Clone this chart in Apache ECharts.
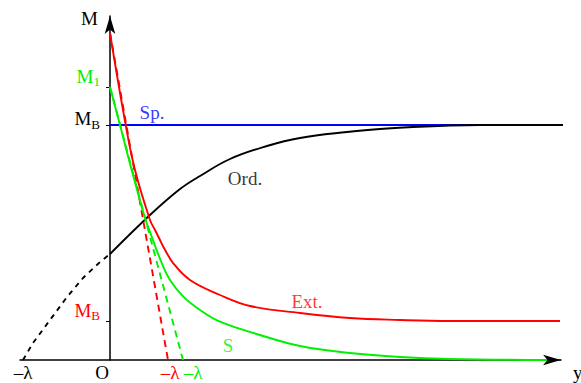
<!DOCTYPE html>
<html>
<head>
<meta charset="utf-8">
<script src="https://cdn.jsdelivr.net/npm/echarts@6/dist/echarts.min.js"></script>
<style>
  html, body { margin: 0; padding: 0; background: #fff; }
  #main { width: 581px; height: 383px; }
</style>
</head>
<body>
<div id="main"></div>
<script>
  // 曲线数据 [y, M]
  var spData = [[0, 2.35], [4.6, 2.35]];
  var ordDashed = [[-0.87, 0], [-0.77, 0.17], [-0.60, 0.40], [-0.43, 0.63], [-0.27, 0.82], [-0.10, 0.98], [0, 1.06]];
  var ordData = [[0, 1.06], [0.4, 1.45], [0.7, 1.71], [0.9, 1.84], [1.2, 2.01], [1.57, 2.14], [1.9, 2.22],
      [2.37, 2.28], [2.7, 2.31], [3.03, 2.33], [3.4, 2.345], [3.7, 2.35], [4.6, 2.35]];
  var extData = [[0, 3.27], [0.157, 2.35], [0.25, 1.90], [0.40, 1.40], [0.45, 1.30], [0.50, 1.20], [0.533, 1.133],
      [0.633, 0.967], [0.80, 0.80], [1.10, 0.65], [1.40, 0.54], [1.90, 0.47], [2.40, 0.42], [2.90, 0.40],
      [3.40, 0.39], [4.50, 0.39]];
  var extTangent = [[0, 3.27], [0.58, 0]];
  var sData = [[0, 2.73], [0.10, 2.35], [0.217, 1.90], [0.35, 1.42], [0.40, 1.28], [0.517, 0.97], [0.60, 0.80],
      [0.733, 0.633], [0.90, 0.50], [1.10, 0.383], [1.50, 0.25], [1.90, 0.14], [2.40, 0.07], [2.90, 0.03],
      [3.40, 0.01], [4.37, 0]];
  var sTangent = [[0, 2.73], [0.73, 0]];

  // 刻度
  var yTickValues = [2.73, 2.35, 0.39];
  var yTickLabels = ['{gm|M}{gs|1}\n{gap22| }', '{km|M}{ks|B}\n{gap13| }', '{rm|M}{rs|B}\n{gap22| }'];
  var xTickValues = [-0.87, 0, 0.60, 0.83];
  var xTickLabels = ['{k|–λ}', '{o|O}', '{r|–λ}', '{g|–λ}'];

  // 曲线名称 [文字, y, M, 颜色]
  var curveLabels = [['Sp.', 0.42, 2.48, '#0000ff'], ['Ord.', 1.35, 1.82, '#000000'],
      ['Ext.', 1.97, 0.59, '#ff0000'], ['S', 1.18, 0.15, '#00ee00']];

  var RED = '#ff0000', GREEN = '#00f000', BLUE = '#0000ff';
  var FONT = 'Liberation Serif';

  function findIndex(arr, v) {
      for (var i = 0; i < arr.length; i++) {
          if (Math.abs(arr[i] - v) < 1e-6) return i;
      }
      return -1;
  }

  var myChart = echarts.init(document.getElementById('main'), null, { renderer: 'svg' });

  function lineSeries(name, data, color, dashed) {
      return {
          name: name,
          type: 'line',
          data: data,
          smooth: dashed ? false : 0.4,
          showSymbol: false,
          clip: false,
          silent: true,
          lineStyle: {
              color: color,
              width: 1.9,
              type: dashed ? dashed : 'solid'
          }
      };
  }

  var option = {
      backgroundColor: '#fff',
      animation: false,
      grid: { left: 20, right: 20, top: 16, bottom: 23, outerBoundsMode: 'none', containLabel: false },
      xAxis: {
          type: 'value',
          min: -0.9,
          max: 4.51,
          splitLine: { show: false },
          axisTick: { show: false },
          axisLine: {
              symbol: ['none', 'arrow'],
              symbolSize: [8, 18],
              lineStyle: { color: '#000', width: 1.5 }
          },
          axisLabel: {
              customValues: xTickValues,
              margin: 3,
              formatter: function (value) {
                  var i = findIndex(xTickValues, value);
                  return i >= 0 ? xTickLabels[i] : '';
              },
              rich: {
                  k: { color: '#000', fontFamily: FONT, fontSize: 19 },
                  o: { color: '#000', fontFamily: FONT, fontSize: 19, padding: [0, 16, 0, 0] },
                  r: { color: RED, fontFamily: FONT, fontSize: 19 },
                  g: { color: GREEN, fontFamily: FONT, fontSize: 19 }
              }
          },
          name: 'y',
          nameLocation: 'end',
          nameGap: 12,
          nameTextStyle: {
              color: '#000', fontFamily: FONT, fontSize: 19,
              verticalAlign: 'top', padding: [3, 0, 0, 0]
          }
      },
      yAxis: {
          type: 'value',
          min: 0,
          max: 3.44,
          position: 'left',
          offset: -90, // 移到 y=0 处
          splitLine: { show: false },
          axisLine: {
              onZero: false,
              symbol: ['none', 'arrow'],
              symbolSize: [8, 18],
              lineStyle: { color: '#000', width: 1.5 }
          },
          axisTick: {
              customValues: yTickValues,
              length: 4,
              lineStyle: { color: '#000', width: 1 }
          },
          axisLabel: {
              customValues: yTickValues,
              margin: 10,
              formatter: function (value) {
                  var i = findIndex(yTickValues, value);
                  return i >= 0 ? yTickLabels[i] : '';
              },
              rich: {
                  gm: { color: GREEN, fontFamily: FONT, fontSize: 19, lineHeight: 24 },
                  gs: { color: GREEN, fontFamily: FONT, fontSize: 13, lineHeight: 14, verticalAlign: 'bottom' },
                  km: { color: '#000', fontFamily: FONT, fontSize: 19, lineHeight: 24 },
                  ks: { color: '#000', fontFamily: FONT, fontSize: 13, lineHeight: 14, verticalAlign: 'bottom' },
                  rm: { color: RED, fontFamily: FONT, fontSize: 19, lineHeight: 24 },
                  rs: { color: RED, fontFamily: FONT, fontSize: 13, lineHeight: 14, verticalAlign: 'bottom' },
                  gap22: { fontSize: 4, lineHeight: 22 },
                  gap13: { fontSize: 4, lineHeight: 13 }
              }
          },
          name: 'M',
          nameLocation: 'end',
          nameGap: -2,
          nameTextStyle: {
              color: '#000', fontFamily: FONT, fontSize: 19,
              align: 'right', verticalAlign: 'middle', padding: [0, 12, 0, 0]
          }
      },
      series: [
          lineSeries('Sp.', spData, BLUE),
          lineSeries('Ord. dashed', ordDashed, '#000', [5, 5]),
          lineSeries('Ord.', ordData, '#000'),
          lineSeries('Ext. tangent', extTangent, RED, [7, 5]),
          lineSeries('S tangent', sTangent, GREEN, [7, 5]),
          lineSeries('Ext.', extData, RED),
          lineSeries('S', sData, GREEN),
          {
              name: 'labels',
              type: 'scatter',
              symbolSize: 0,
              silent: true,
              data: curveLabels.map(function (c) {
                  return {
                      name: c[0],
                      value: [c[1], c[2]],
                      label: { color: c[3] }
                  };
              }),
              label: {
                  show: true,
                  position: 'inside',
                  formatter: '{b}',
                  fontFamily: FONT,
                  fontSize: 19
              }
          }
      ]
  };

  myChart.setOption(option);
</script>
</body>
</html>
